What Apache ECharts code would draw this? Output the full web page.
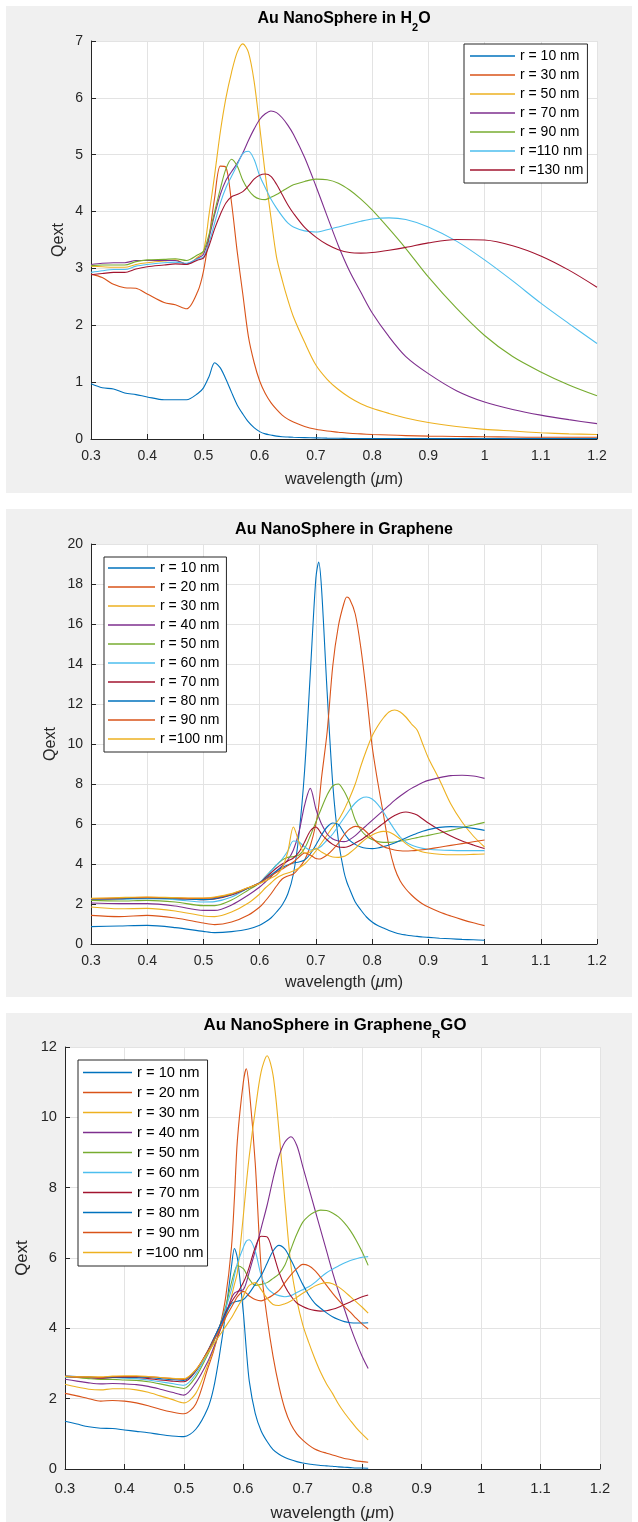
<!DOCTYPE html>
<html>
<head>
<meta charset="utf-8">
<title>Au NanoSphere Qext</title>
<script src="https://cdn.jsdelivr.net/npm/echarts@6/dist/echarts.min.js"></script>
<style>
  body { margin: 0; background: #fff; width: 638px; height: 1522px; position: relative; overflow: hidden; }
  .panel { position: absolute; left: 6px; width: 626px; background: #f0f0f0; }
</style>
</head>
<body>
<div id="p1" class="panel" style="top:6px;height:487px"></div>
<div id="p2" class="panel" style="top:509px;height:488px"></div>
<div id="p3" class="panel" style="top:1013px;height:509px"></div>
<script>
// MATLAB default colour order
const colorOrder = ['#0072BD', '#D95319', '#EDB120', '#7E2F8E', '#77AC30', '#4DBEEE', '#A2142F'];
const FONT = '"Liberation Sans", Arial, Helvetica, sans-serif';

// ---- panel 1 : H2O ----
const wlH2O = [0.30,0.32,0.34,0.36,0.38,0.40,0.43,0.45,0.47,0.49,
  0.50,0.51,0.52,0.53,0.54,0.55,0.56,0.57,0.58,0.59,0.60,0.61,0.62,0.63,0.64,0.65,0.66,
  0.68,0.70,0.72,0.74,0.76,0.78,0.80, 0.83,0.86,0.90, 0.95,1.00,1.05,1.10,1.15,1.20];
const namesH2O = ['r = 10 nm', 'r = 30 nm', 'r = 50 nm', 'r = 70 nm', 'r = 90 nm', 'r =110 nm', 'r =130 nm'];
const h2o_r10 = [0.97,0.90,0.88,0.81,0.78,0.74,0.69,0.69,0.69,0.80,
  0.90,1.10,1.34,1.25,1.05,0.82,0.60,0.44,0.30,0.20,0.13,0.09,0.07,0.05,0.04,0.035,0.03,
  0.025,0.02,0.015,0.012,0.01,0.01,0.01, 0.01,0.01,0.01, 0.01,0.01,0.01,0.01,0.01,0.01];
const h2o_r30 = [2.90,2.84,2.72,2.66,2.65,2.55,2.40,2.36,2.29,2.60,
  2.95,3.55,4.25,4.80,4.78,4.15,3.30,2.55,1.80,1.35,1.02,0.80,0.64,0.52,0.42,0.35,0.30,
  0.22,0.17,0.14,0.12,0.10,0.09,0.08, 0.07,0.06,0.05, 0.045,0.04,0.035,0.03,0.03,0.03];
const h2o_r50 = [3.04,3.03,3.02,3.02,3.07,3.10,3.13,3.15,3.07,3.20,
  3.30,3.95,4.65,5.40,6.00,6.45,6.80,6.95,6.80,6.30,5.50,4.65,3.90,3.20,2.80,2.45,2.15,
  1.70,1.30,1.05,0.87,0.73,0.62,0.54, 0.45,0.37,0.29, 0.22,0.17,0.14,0.11,0.09,0.08];
const h2o_r70 = [3.07,3.09,3.10,3.10,3.14,3.14,3.14,3.14,3.08,3.18,
  3.25,3.55,3.95,4.30,4.55,4.70,4.85,5.03,5.25,5.45,5.62,5.72,5.77,5.74,5.65,5.52,5.36,
  4.95,4.45,3.92,3.40,2.95,2.58,2.22, 1.80,1.45,1.15, 0.85,0.65,0.52,0.42,0.34,0.27];
const h2o_r90 = [3.05,3.06,3.06,3.06,3.12,3.15,3.16,3.17,3.14,3.24,
  3.30,3.60,4.00,4.40,4.75,4.92,4.80,4.55,4.38,4.27,4.22,4.21,4.25,4.30,4.36,4.42,4.47,
  4.53,4.57,4.56,4.50,4.38,4.22,4.03, 3.70,3.35,2.85, 2.30,1.82,1.45,1.18,0.95,0.76];
const h2o_r110 = [2.93,2.96,2.98,2.98,3.04,3.07,3.10,3.11,3.09,3.17,
  3.20,3.45,3.80,4.15,4.42,4.62,4.82,5.02,5.06,4.92,4.63,4.42,4.22,4.06,3.92,3.80,3.73,
  3.66,3.64,3.68,3.73,3.78,3.83,3.87, 3.89,3.86,3.73, 3.48,3.15,2.78,2.39,2.03,1.68];
const h2o_r130 = [2.89,2.91,2.93,2.93,2.99,3.03,3.06,3.08,3.07,3.15,
  3.18,3.40,3.70,3.95,4.15,4.26,4.30,4.35,4.45,4.57,4.64,4.66,4.62,4.48,4.30,4.12,3.97,
  3.72,3.55,3.42,3.33,3.28,3.27,3.28, 3.32,3.37,3.45, 3.51,3.50,3.40,3.22,2.97,2.67];

// ---- panel 2 : Graphene ----
const wlGr = [0.30,0.35,0.40,0.45,0.50,0.52,0.55,0.58,
  0.60,0.61,0.62,0.63,0.64,0.65,0.66,0.67,0.68,0.69,0.70, 0.705,
  0.71,0.72,0.73,0.74,0.75, 0.755,
  0.76,0.77,0.78,0.79,0.80,0.81,0.82,0.83,0.84,0.85,0.86,0.87,0.88,0.89,0.90,
  0.92,0.94,0.96,0.98,1.00];
const namesGr = ['r = 10 nm', 'r = 20 nm', 'r = 30 nm', 'r = 40 nm', 'r = 50 nm',
  'r = 60 nm', 'r = 70 nm', 'r = 80 nm', 'r = 90 nm', 'r =100 nm'];
const gr_r10 = [0.87,0.90,0.93,0.82,0.63,0.57,0.62,0.75,
  0.94,1.10,1.30,1.60,1.95,2.50,3.50,5.50,8.70,13.5,18.3, 19.1,
  17.8,12.6,8.0,5.2,3.6, 3.1,
  2.75,2.10,1.70,1.35,1.10,0.92,0.80,0.68,0.58,0.50,0.45,0.41,0.38,0.35,0.33,
  0.29,0.26,0.23,0.21,0.19];
const gr_r20 = [1.43,1.37,1.43,1.30,1.05,0.97,1.10,1.45,
  1.85,2.15,2.50,2.90,3.25,3.40,3.50,3.80,4.20,4.90,6.00, 6.9,
  8.3,10.6,13.9,15.9,17.05, 17.35,
  17.25,16.5,14.8,12.5,9.9,8.1,6.5,4.9,3.8,3.15,2.75,2.45,2.2,2.0,1.85,
  1.6,1.4,1.22,1.06,0.92];
const gr_r30 = [1.85,1.76,1.78,1.65,1.40,1.37,1.60,2.05,
  2.50,2.80,3.05,3.30,3.45,3.55,3.65,3.80,4.00,4.30,4.65, 4.85,
  5.05,5.45,5.85,6.20,6.70, 7.0,
  7.3,8.0,8.9,9.7,10.4,10.9,11.3,11.6,11.7,11.6,11.35,11.0,10.7,10.0,9.3,
  8.2,7.0,6.1,5.4,4.85];
const gr_r40 = [2.05,2.02,2.02,1.90,1.68,1.68,1.95,2.45,
  2.85,3.10,3.35,3.65,3.90,4.20,4.70,5.60,6.95,7.78,6.75, 6.35,
  6.00,5.50,5.25,5.15,5.12, 5.14,
  5.22,5.42,5.68,5.93,6.18,6.43,6.68,6.93,7.18,7.40,7.60,7.78,7.93,8.07,8.18,
  8.32,8.42,8.44,8.40,8.28];
const gr_r50 = [2.18,2.15,2.18,2.10,1.92,1.92,2.20,2.70,
  3.05,3.35,3.65,3.95,4.20,4.33,4.37,4.45,4.78,5.40,6.10, 6.45,
  6.80,7.45,7.90,8.00,7.65, 7.38,
  7.05,6.20,5.70,5.40,5.22,5.12,5.08,5.08,5.10,5.15,5.20,5.26,5.32,5.38,5.43,
  5.55,5.68,5.82,5.95,6.08];
const gr_r60 = [2.25,2.24,2.27,2.22,2.10,2.12,2.35,2.80,
  3.08,3.35,3.65,3.95,4.25,4.65,5.15,5.10,4.85,4.70,4.75, 4.80,
  4.90,5.20,5.50,5.90,6.30, 6.50,
  6.70,7.05,7.28,7.35,7.25,6.98,6.60,6.15,5.72,5.35,5.10,4.95,4.85,4.78,4.74,
  4.70,4.68,4.67,4.67,4.67];
const gr_r70 = [2.25,2.27,2.32,2.28,2.22,2.25,2.45,2.80,
  3.05,3.30,3.55,3.80,4.00,4.15,4.30,4.60,5.10,5.65,5.85, 5.72,
  5.50,5.20,4.98,4.85,4.83, 4.85,
  4.90,5.05,5.20,5.40,5.60,5.82,6.03,6.25,6.42,6.55,6.60,6.55,6.45,6.25,6.05,
  5.70,5.40,5.15,4.95,4.77];
const gr_r80 = [2.25,2.27,2.30,2.27,2.22,2.27,2.48,2.80,
  3.05,3.25,3.45,3.65,3.82,3.95,4.05,4.10,4.20,4.50,4.95, 5.20,
  5.45,5.85,6.05,5.98,5.55, 5.35,
  5.18,4.98,4.85,4.79,4.77,4.80,4.87,4.95,5.05,5.17,5.30,5.42,5.54,5.64,5.72,
  5.83,5.87,5.85,5.78,5.68];
const gr_r90 = [2.27,2.30,2.33,2.30,2.28,2.32,2.50,2.82,
  3.05,3.22,3.40,3.58,3.75,3.92,4.10,4.35,4.55,4.45,4.27, 4.25,
  4.28,4.45,4.72,5.05,5.45, 5.62,
  5.75,5.88,5.82,5.60,5.30,5.05,4.88,4.77,4.70,4.66,4.65,4.66,4.68,4.71,4.75,
  4.84,4.93,5.02,5.11,5.20];
const gr_r100 = [2.28,2.32,2.35,2.32,2.30,2.35,2.52,2.82,
  3.02,3.15,3.30,3.45,3.80,4.60,5.85,5.10,4.55,4.60,4.78, 4.70,
  4.60,4.45,4.35,4.33,4.38, 4.45,
  4.55,4.78,5.05,5.28,5.45,5.57,5.63,5.60,5.45,5.25,5.02,4.83,4.70,4.60,4.55,
  4.49,4.46,4.46,4.48,4.50];

// ---- panel 3 : Graphene_R GO ----
const wlRGO = [0.30,0.32,0.34,0.36,0.38,0.40,0.42,0.44,0.46,0.48,0.50,
  0.52,0.54,0.55,0.56,0.57,0.58,
  0.585,0.59,0.60,0.605,0.61,
  0.62,0.63,0.64,0.65,0.66,0.67,0.68,0.69,0.70,0.71,0.72,0.73,0.74,0.75,0.76,0.77,0.78,0.79,0.80,0.81];
const namesRGO = namesGr;
const rgo_r10 = [1.36,1.28,1.20,1.16,1.15,1.11,1.07,1.03,0.98,0.94,0.92,
  1.13,1.72,2.30,3.25,4.40,5.75,
  6.27,6.00,4.45,3.40,2.50,
  1.58,1.08,0.78,0.55,0.42,0.33,0.26,0.21,0.17,0.14,0.12,0.10,0.09,0.08,0.06,0.05,0.04,0.03,0.03,0.02];
const rgo_r20 = [2.15,2.08,2.00,1.93,1.95,1.93,1.88,1.80,1.70,1.62,1.57,
  1.85,2.85,3.35,4.00,4.85,6.30,
  7.70,9.35,11.0,11.38,10.8,
  8.7,5.7,4.3,3.2,2.35,1.70,1.27,1.00,0.82,0.68,0.57,0.50,0.45,0.40,0.35,0.30,0.27,0.23,0.21,0.19];
const rgo_r30 = [2.41,2.33,2.27,2.25,2.28,2.28,2.25,2.18,2.08,1.98,1.88,
  2.15,2.95,3.40,3.90,4.30,4.90,
  5.25,5.60,7.20,8.10,8.90,
  10.2,11.3,11.75,11.2,9.6,7.6,5.8,4.8,4.1,3.6,3.15,2.75,2.42,2.15,1.85,1.60,1.38,1.17,0.99,0.83];
const rgo_r40 = [2.55,2.50,2.45,2.42,2.43,2.42,2.40,2.35,2.27,2.18,2.10,
  2.45,3.05,3.45,3.90,4.40,4.85,
  5.00,5.05,5.10,5.30,5.60,
  6.20,6.85,7.50,8.25,8.90,9.30,9.45,9.20,8.60,8.00,7.40,6.80,6.20,5.60,5.05,4.55,4.05,3.60,3.20,2.86];
const rgo_r50 = [2.62,2.60,2.57,2.55,2.55,2.53,2.52,2.48,2.42,2.35,2.29,
  2.62,3.25,3.60,4.05,4.60,5.30,
  5.60,5.78,5.70,5.55,5.40,
  5.22,5.25,5.30,5.42,5.55,5.80,6.25,6.68,7.02,7.20,7.31,7.36,7.35,7.28,7.17,7.00,6.78,6.50,6.17,5.79];
const rgo_r60 = [2.62,2.60,2.60,2.58,2.60,2.58,2.57,2.53,2.48,2.43,2.38,
  2.70,3.30,3.65,4.05,4.55,5.10,
  5.50,5.85,6.30,6.48,6.52,
  6.20,5.50,5.15,5.00,4.93,4.90,4.93,5.02,5.10,5.18,5.30,5.45,5.58,5.68,5.77,5.86,5.93,5.98,6.02,6.04];
const rgo_r70 = [2.63,2.61,2.60,2.58,2.60,2.60,2.60,2.57,2.53,2.50,2.48,
  2.78,3.35,3.70,4.05,4.45,4.75,
  4.88,5.00,5.30,5.50,5.75,
  6.30,6.62,6.60,6.15,5.60,5.20,4.92,4.72,4.62,4.55,4.51,4.49,4.50,4.54,4.60,4.68,4.75,4.83,4.90,4.95];
const rgo_r80 = [2.64,2.63,2.62,2.60,2.62,2.62,2.62,2.60,2.57,2.54,2.52,
  2.80,3.35,3.70,4.05,4.40,4.70,
  4.75,4.77,4.82,4.90,5.00,
  5.25,5.50,5.85,6.20,6.36,6.25,5.95,5.60,5.25,4.95,4.72,4.57,4.44,4.33,4.25,4.19,4.16,4.15,4.15,4.16];
const rgo_r90 = [2.64,2.62,2.62,2.60,2.63,2.63,2.63,2.62,2.60,2.57,2.55,
  2.82,3.35,3.65,3.95,4.30,4.60,
  4.75,4.90,5.05,5.00,4.92,
  4.82,4.78,4.85,4.95,5.08,5.30,5.52,5.70,5.82,5.78,5.65,5.45,5.22,5.00,4.80,4.62,4.46,4.28,4.12,3.98];
const rgo_r100 = [2.63,2.62,2.62,2.62,2.64,2.65,2.65,2.63,2.60,2.58,2.57,
  2.82,3.30,3.55,3.80,4.05,4.30,
  4.45,4.60,4.90,5.10,5.22,
  5.30,5.10,4.85,4.68,4.65,4.70,4.78,4.88,5.00,5.10,5.20,5.27,5.30,5.27,5.18,5.05,4.90,4.75,4.60,4.43];

function makePanel(id, cfg) {
  const chart = echarts.init(document.getElementById(id), null, { renderer: 'canvas' });
  const s = cfg.scale || 1;
  const tickFont = 14 * s, nameFont = 16 * s;
  const axisLine = { show: true, lineStyle: { color: '#262626', width: 1 } };
  const axisTick = { show: true, inside: true, length: 5, lineStyle: { color: '#262626', width: 1 } };
  const splitLine = { show: true, lineStyle: { color: '#e3e3e3', width: 1 } };

  const series = cfg.values.map((ys, i) => {
    const c = colorOrder[i % colorOrder.length];
    return {
      type: 'line',
      name: cfg.names[i],
      data: cfg.wl.map((x, j) => [x, ys[j]]),
      symbol: 'none',
      smooth: 0.3,
      lineStyle: { width: 1.1, color: c },
      itemStyle: { color: c },
      emphasis: { disabled: true },
      animation: false
    };
  });

  chart.setOption({
    animation: false,
    textStyle: { fontFamily: FONT },
    graphic: [{
      type: 'text',
      x: cfg.titleX,
      y: cfg.titleY,
      style: {
        text: cfg.title,
        textAlign: 'center',
        textVerticalAlign: 'top',
        rich: {
          a: { fontSize: 16 * s, fontWeight: 'bold', fontFamily: FONT, fill: '#000', lineHeight: 18 * s, verticalAlign: 'top' },
          s: { fontSize: 11 * s, fontWeight: 'bold', fontFamily: FONT, fill: '#000', lineHeight: 12 * s, padding: [11 * s, 0, 0, 0], verticalAlign: 'top' }
        }
      }
    }],
    grid: {
      left: cfg.grid[0], top: cfg.grid[1], width: cfg.grid[2], height: cfg.grid[3],
      show: true, backgroundColor: '#fff', borderWidth: 0,
      outerBoundsMode: 'none'
    },
    legend: {
      orient: 'vertical',
      left: cfg.legend[0], top: cfg.legend[1],
      icon: 'rect',
      itemWidth: cfg.legend[2], itemHeight: 1.3,
      itemGap: cfg.legend[3],
      padding: cfg.legendPad,
      backgroundColor: '#fff',
      borderColor: '#262626', borderWidth: 1, borderRadius: 0,
      selectedMode: false,
      textStyle: { fontSize: 14 * s, color: '#000', fontFamily: FONT },
      data: cfg.names
    },
    xAxis: {
      type: 'value', min: 0.3, max: 1.2, interval: 0.1,
      axisLine, axisTick, splitLine,
      axisLabel: {
        fontSize: tickFont, color: '#262626', margin: cfg.xMargin,
        showMinLabel: true, showMaxLabel: true,
        formatter: v => String(+v.toFixed(1))
      },
      name: '{n|wavelength (}{m|μ}{n|m)}',
      nameLocation: 'middle', nameGap: cfg.xNameGap, nameMoveOverlap: false,
      nameTextStyle: {
        rich: {
          n: { fontSize: nameFont, color: '#262626', fontFamily: FONT },
          m: { fontSize: nameFont, color: '#262626', fontFamily: FONT, fontStyle: 'italic' }
        }
      }
    },
    yAxis: {
      type: 'value', min: 0, max: cfg.yMax, interval: cfg.yStep,
      axisLine, axisTick, splitLine,
      axisLabel: { fontSize: tickFont, color: '#262626', margin: 8, showMinLabel: true, showMaxLabel: true },
      name: 'Qext', nameLocation: 'middle', nameGap: cfg.yNameGap, nameMoveOverlap: false,
      nameTextStyle: { fontSize: nameFont, color: '#262626', fontFamily: FONT }
    },
    series
  });
  return chart;
}

makePanel('p1', {
  title: '{a|Au NanoSphere in H}{s|2}{a|O}', titleX: 338, titleY: 5,
  grid: [85, 35, 506, 398],
  legend: [458, 38, 45, 5], legendPad: [5, 4, 6, 6],
  wl: wlH2O, names: namesH2O,
  values: [h2o_r10, h2o_r30, h2o_r50, h2o_r70, h2o_r90, h2o_r110, h2o_r130],
  yMax: 7, yStep: 1, xMargin: 10, xNameGap: 33, yNameGap: 24
});

makePanel('p2', {
  title: '{a|Au NanoSphere in Graphene}', titleX: 338, titleY: 13,
  grid: [85, 35, 506, 400],
  legend: [98, 48, 47, 5], legendPad: [4, 3, 6, 4],
  wl: wlGr, names: namesGr,
  values: [gr_r10, gr_r20, gr_r30, gr_r40, gr_r50, gr_r60, gr_r70, gr_r80, gr_r90, gr_r100],
  yMax: 20, yStep: 2, xMargin: 10, xNameGap: 31, yNameGap: 32
});

makePanel('p3', {
  title: '{a|Au NanoSphere in Graphene}{s|R}{a|GO}', titleX: 329, titleY: 4, scale: 1.05,
  grid: [59, 34, 535, 422],
  legend: [72, 47, 49, 5], legendPad: [5, 4, 6, 5],
  wl: wlRGO, names: namesRGO,
  values: [rgo_r10, rgo_r20, rgo_r30, rgo_r40, rgo_r50, rgo_r60, rgo_r70, rgo_r80, rgo_r90, rgo_r100],
  yMax: 12, yStep: 2, xMargin: 12, xNameGap: 36, yNameGap: 34
});
</script>
</body>
</html>
